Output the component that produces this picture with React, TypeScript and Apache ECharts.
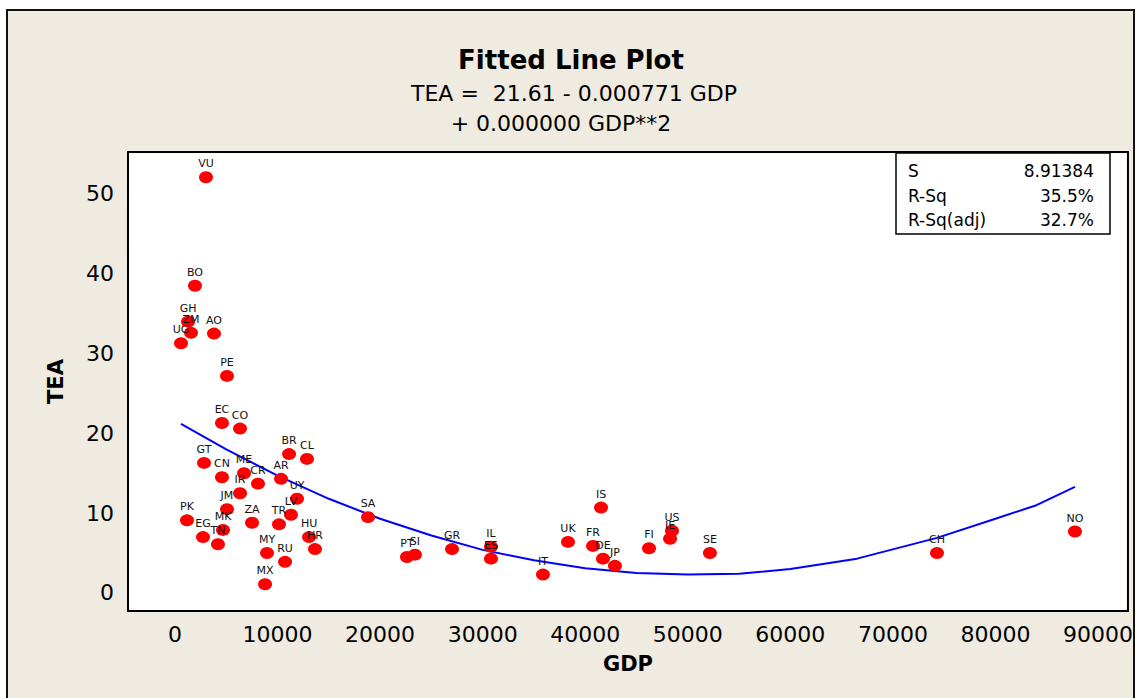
import React, { useEffect, useRef } from "react";
import * as echarts from "echarts";

const countries = ["VU","BO","GH","ZM","AO","UG","PE","EC","CO","GT","CN","ME","CR","IR","AR","BR","CL","UY","LV","JM","PK","MK","EG","TN","ZA","TR","HU","HR","MY","RU","MX","SA","PT","SI","GR","IL","ES","IT","UK","FR","IS","DE","JP","FI","US","IE","SE","CH","NO"];
const gdp = [3020,1950,1270,1560,3800,585,5070,4580,6340,2830,4580,6730,8090,6340,10340,11120,12870,11900,11310,5070,1170,4680,2730,4190,7510,10140,13070,13650,8970,10730,8780,18820,22620,23400,27010,30810,30810,35880,38320,40760,41540,41730,42900,46220,48460,48270,52160,74300,87750];
const tea = [52.1,38.5,34.0,32.6,32.5,31.3,27.2,21.3,20.6,16.3,14.5,15.0,13.7,12.5,14.3,17.4,16.8,11.8,9.8,10.5,9.1,7.9,7.0,6.1,8.8,8.6,7.0,5.5,5.0,3.9,1.1,9.5,4.5,4.8,5.5,5.8,4.3,2.3,6.4,5.9,10.7,4.3,3.4,5.6,7.8,6.8,5.0,5.0,7.7];

const fitGdp = [585,5000,10000,15000,20000,25000,30000,35000,40000,45000,50000,55000,60000,66500,74300,80000,84000,87750];
const fitTea = [21.2,18.0,14.7,11.8,9.3,7.2,5.4,4.1,3.1,2.5,2.3,2.4,3.0,4.3,6.9,9.3,11.0,13.3];

const xTicks = [0,10000,20000,30000,40000,50000,60000,70000,80000,90000];
const yTicks = [0,10,20,30,40,50];

const titleText = "Fitted Line Plot";
const eqLine1 = "TEA =  21.61 - 0.000771 GDP";
const eqLine2 = "+ 0.000000 GDP**2";
const statNames = ["S", "R-Sq", "R-Sq(adj)"];
const statValues = ["8.91384", "35.5%", "32.7%"];

const FONT = "DejaVu Sans";

export default function App() {
  const ref = useRef<HTMLDivElement>(null);
  useEffect(() => {
    document.body.style.margin = "0";
    const chart = echarts.init(ref.current!, null, { renderer: "svg" });
    const points = countries.map((c, i) => ({ name: c, value: [gdp[i], tea[i]] }));
    const fit = fitGdp.map((g, i) => [g, fitTea[i]]);
    const statGraphics: any[] = [];
    statNames.forEach((n, i) => {
      statGraphics.push({
        type: "text", z: 11,
        style: { text: n, x: 908, y: 171 + i * 24.5, font: `17px '${FONT}'`, fill: "#000", verticalAlign: "middle" },
      });
      statGraphics.push({
        type: "text", z: 11,
        style: { text: statValues[i], x: 1094, y: 171 + i * 24.5, font: `17px '${FONT}'`, fill: "#000", align: "right", verticalAlign: "middle" },
      });
    });
    chart.setOption({
      animation: false,
      backgroundColor: "#ffffff",
      textStyle: { fontFamily: FONT },
      grid: {
        left: 128, top: 152, width: 1000, height: 459,
        show: true, backgroundColor: "#ffffff", borderColor: "#000000", borderWidth: 2,
        z: 1,
      },
      xAxis: {
        type: "value", min: -4583, max: 92920,
        name: "GDP", nameLocation: "middle", nameGap: 42,
        nameTextStyle: { fontFamily: FONT, fontWeight: "bold", fontSize: 21, color: "#000" },
        axisLine: { show: false },
        axisTick: { show: true, length: 8, lineStyle: { color: "#000", width: 2 }, customValues: xTicks },
        axisLabel: { customValues: xTicks, fontFamily: FONT, fontSize: 22, color: "#000", margin: 12, formatter: (v: number) => String(v) },
        splitLine: { show: false },
      },
      yAxis: {
        type: "value", min: -2.26, max: 55.26,
        name: "TEA", nameLocation: "middle", nameGap: 62, nameRotate: 90,
        nameTextStyle: { fontFamily: FONT, fontWeight: "bold", fontSize: 21, color: "#000" },
        axisLine: { show: false },
        axisTick: { show: true, length: 9, lineStyle: { color: "#000", width: 2 }, customValues: yTicks },
        axisLabel: { customValues: yTicks, fontFamily: FONT, fontSize: 22, color: "#000", margin: 14, formatter: (v: number) => String(v) },
        splitLine: { show: false },
      },
      graphic: [
        {
          type: "rect", z: -10, silent: true,
          shape: { x: 7, y: 10, width: 1127, height: 700 },
          style: { fill: "#efebe1", stroke: "#111", lineWidth: 2 },
        },
        {
          type: "text", z: 10,
          style: { text: titleText, x: 571, y: 60, font: `bold 26px '${FONT}'`, fill: "#000", align: "center", verticalAlign: "middle" },
        },
        {
          type: "text", z: 10,
          style: { text: eqLine1, x: 574, y: 93, font: `22px '${FONT}'`, fill: "#000", align: "center", verticalAlign: "middle" },
        },
        {
          type: "text", z: 10,
          style: { text: eqLine2, x: 561, y: 123, font: `22px '${FONT}'`, fill: "#000", align: "center", verticalAlign: "middle" },
        },
        {
          type: "rect", z: 10,
          shape: { x: 896, y: 153, width: 214, height: 81 },
          style: { fill: "#fff", stroke: "#000", lineWidth: 1.5 },
        },
        ...statGraphics,
      ],
      series: [
        {
          type: "line", data: fit, showSymbol: false, symbol: "none", smooth: false,
          lineStyle: { color: "#0000ff", width: 2 }, z: 3, silent: true,
        },
        {
          type: "scatter", data: points, symbol: "circle", symbolSize: [14, 12],
          itemStyle: { color: "#ff0000", opacity: 1 }, z: 4,
          label: {
            show: true, position: "top", distance: 2,
            formatter: (p: any) => p.name,
            fontFamily: FONT, fontSize: 11, color: "#111",
          },
        },
      ],
    });
    return () => chart.dispose();
  }, []);
  return <div ref={ref} style={{ position: "absolute", left: 0, top: 0, width: 1136, height: 698 }} />;
}
